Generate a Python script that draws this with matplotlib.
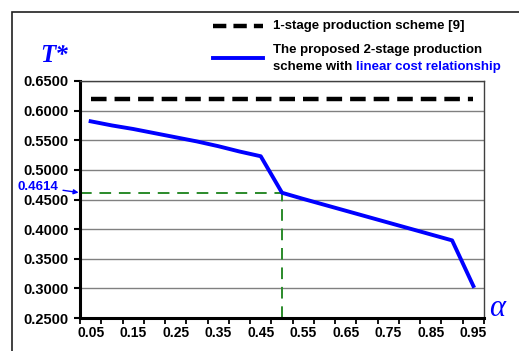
import matplotlib as mpl
mpl.use('agg')
import matplotlib.pyplot as plt
from matplotlib.lines import Line2D
from matplotlib.patches import Rectangle
import numpy as np

alpha = [0.05, 0.10, 0.15, 0.20, 0.25, 0.30, 0.35, 0.40, 0.45, 0.50,
         0.55, 0.60, 0.65, 0.70, 0.75, 0.80, 0.85, 0.90, 0.95]
t_two_stage = [0.582, 0.575, 0.569, 0.562, 0.555, 0.548, 0.540, 0.531, 0.523, 0.4614,
               0.451, 0.441, 0.431, 0.421, 0.411, 0.401, 0.391, 0.381, 0.304]
t_one_stage = [0.62] * len(alpha)
alpha_mark = 0.50
t_mark = 0.4614
y_ticks = [0.25, 0.30, 0.35, 0.40, 0.45, 0.50, 0.55, 0.60, 0.65]
x_labels = ['0.05', '0.15', '0.25', '0.35', '0.45', '0.55', '0.65', '0.75', '0.85', '0.95']

plt.rcParams['font.family'] = ['Liberation Sans', 'DejaVu Sans']
plt.rcParams['font.weight'] = 'bold'

W, H = 519, 351
fig = plt.figure(figsize=(W / 100, H / 100), dpi=100)
ax = fig.add_axes([80 / W, 1 - 318 / H, 404 / W, 237 / H])

ax.set_xlim(0.025, 0.975)
ax.set_ylim(0.25, 0.65)

# grid
for y in y_ticks[1:]:
    ax.axhline(y, color='#808080', lw=1.0, zorder=1)

# green guide lines
ax.plot([0.025, alpha_mark], [t_mark, t_mark], color='#2a8a2a', lw=1.4,
        dashes=(6, 4), zorder=2)
ax.plot([alpha_mark, alpha_mark], [0.25, t_mark], color='#2a8a2a', lw=1.4,
        dashes=(6, 4), zorder=2)

ax.plot(alpha, t_one_stage, color='black', lw=3.2, dashes=(3.5, 1.8), zorder=3)
ax.plot(alpha, t_two_stage, color='#0000ff', lw=2.8, zorder=4)

for s in ['top', 'right']:
    ax.spines[s].set_color('#404040')
    ax.spines[s].set_linewidth(1.0)
for s in ['left', 'bottom']:
    ax.spines[s].set_color('black')
    ax.spines[s].set_linewidth(2.2)

ax.set_yticks(y_ticks)
ax.set_yticklabels(['%.4f' % v for v in y_ticks], fontsize=10.5, fontweight='bold')
ax.tick_params(axis='y', direction='out', length=4, width=1.5, pad=4)

ax.set_xticks([float(v) for v in x_labels])
ax.set_xticklabels(x_labels, fontsize=10, fontweight='bold')
ax.tick_params(axis='x', which='major', length=0, pad=6)
ax.set_xticks(np.arange(0.025, 0.98, 0.05), minor=True)
ax.tick_params(axis='x', which='minor', direction='out', length=4, width=1.3)

# value label with arrow
ax.annotate('0.4614', xy=(0.025, t_mark), xycoords='data',
            xytext=(-62, 6), textcoords='offset pixels', color='#0000ff',
            fontsize=9.5, fontweight='bold', va='center', ha='left',
            arrowprops=dict(arrowstyle='-|>', color='#0000ff', lw=1.0,
                            mutation_scale=7, shrinkA=1, shrinkB=1),
            annotation_clip=False)

# axis titles
fig.text(40 / W, 1 - 56 / H, 'T*', color='#0000ff', fontsize=18,
         family='Liberation Serif', style='italic', fontweight='bold', va='center')
fig.text(489 / W, 1 - 309 / H, 'α', color='#0000ff', fontsize=22,
         family=['Liberation Serif', 'DejaVu Serif'], style='italic',
         fontweight='normal', va='center')

# legend
fig.add_artist(Line2D([213 / W, 263 / W], [1 - 26 / H, 1 - 26 / H], color='black',
                      lw=3.2, dashes=(3.0, 1.6), transform=fig.transFigure))
fig.text(273 / W, 1 - 26 / H, '1-stage production scheme [9]', fontsize=9.5,
         fontweight='bold', va='center')
fig.add_artist(Line2D([213 / W, 263 / W], [1 - 58 / H, 1 - 58 / H], color='#0000ff',
                      lw=2.8, transform=fig.transFigure))
fig.text(273 / W, 1 - 50 / H, 'The proposed 2-stage production', fontsize=9.5,
         fontweight='bold', va='center')
t1 = fig.text(273 / W, 1 - 67 / H, 'scheme with ', fontsize=9.5,
              fontweight='bold', va='center')
fig.canvas.draw()
bb = t1.get_window_extent()
fig.text(bb.x1 / W, 1 - 67 / H, 'linear cost relationship', fontsize=9.5,
         fontweight='bold', va='center', color='#0000ff')

# outer frame
fig.add_artist(Rectangle((12 / W, -0.1), 1.2, 1 - 12 / H + 0.1, fill=False,
                         edgecolor='#202020', lw=1.2, transform=fig.transFigure))

fig.savefig('out.png', dpi=100)
